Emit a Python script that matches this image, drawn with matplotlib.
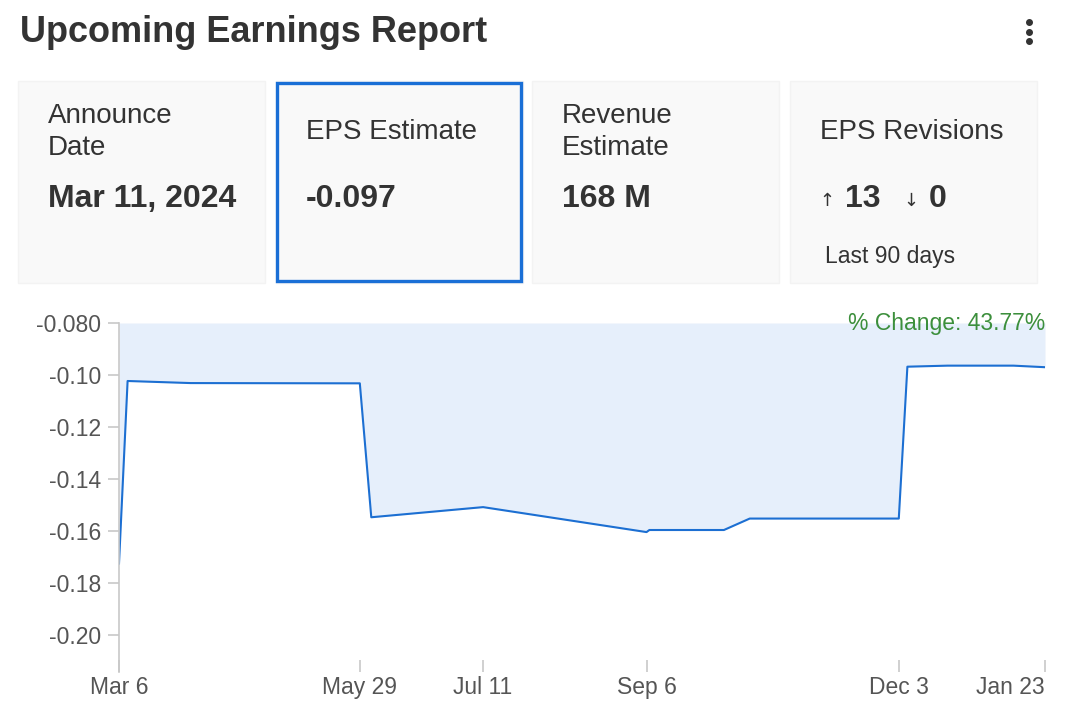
import pandas as pd
import matplotlib
matplotlib.use('Agg')
import matplotlib.pyplot as plt
from matplotlib.patches import FancyBboxPatch, Rectangle

plt.rcParams['font.family'] = ['Liberation Sans', 'DejaVu Sans']

# Данные графика
dates = ['2023-03-06', '2023-03-09', '2023-03-31', '2023-05-29', '2023-06-02',
         '2023-07-11', '2023-09-06', '2023-09-07', '2023-10-03', '2023-10-12',
         '2023-12-03', '2023-12-06', '2023-12-20', '2024-01-12', '2024-01-23']
eps = [-0.1725, -0.1023, -0.1031, -0.1032, -0.1547,
       -0.1508, -0.1604, -0.1596, -0.1596, -0.1552,
       -0.1552, -0.0968, -0.0964, -0.0964, -0.0970]

tick_dates = ['2023-03-06', '2023-05-29', '2023-07-11', '2023-09-06', '2023-12-03', '2024-01-23']
tick_labels = ['Mar 6', 'May 29', 'Jul 11', 'Sep 6', 'Dec 3', 'Jan 23']
y_ticks = [-0.08, -0.10, -0.12, -0.14, -0.16, -0.18, -0.20]
y_labels = ['-0.080', '-0.10', '-0.12', '-0.14', '-0.16', '-0.18', '-0.20']

card_titles = ['Announce\nDate', 'EPS Estimate', 'Revenue\nEstimate', 'EPS Revisions']
card_values = ['Mar 11, 2024', '-0.097', '168 M', None]
revisions_up = 13
revisions_down = 0
pct_change = 43.77

W, H = 1074, 727
fig = plt.figure(figsize=(W / 100, H / 100), dpi=100)
fig.patch.set_facecolor('white')

# Слой для заголовка и карточек (в пикселях)
bg = fig.add_axes([0, 0, 1, 1])
bg.set_xlim(0, W)
bg.set_ylim(H, 0)
bg.axis('off')

bg.text(20, 33, 'Upcoming Earnings Report', fontsize=26, fontweight='bold',
        color='#333333', va='center', ha='left')
bg.plot([1029, 1029, 1029], [22, 32, 41], 'o', color='#333333', markersize=4)

card_x = [18, 276, 532, 790]
card_w = 247
for i, x0 in enumerate(card_x):
    bg.add_patch(FancyBboxPatch((x0, 81), card_w, 202, boxstyle='square,pad=0',
                                facecolor='#f9f9f9', edgecolor='#f3f3f3', lw=1))
    if i == 1:
        bg.add_patch(Rectangle((x0 + 1, 83), card_w - 3, 198, fill=False,
                               edgecolor='#1a6fd6', lw=2.4))
    tx = x0 + 30
    bg.text(tx, 132, card_titles[i], fontsize=20, color='#333333',
            va='center', ha='left', linespacing=1.32)
    if card_values[i] is not None:
        bg.text(tx, 199, card_values[i], fontsize=23, fontweight='bold',
                color='#333333', va='center', ha='left')

# Карточка с ревизиями
bg.text(819, 201, '↑', fontsize=13, color='#333333', va='center', ha='left',
        family=['DejaVu Sans'])
bg.text(845, 199, str(revisions_up), fontsize=23, fontweight='bold',
        color='#333333', va='center', ha='left')
bg.text(903, 201, '↓', fontsize=13, color='#333333', va='center', ha='left',
        family=['DejaVu Sans'])
bg.text(929, 199, str(revisions_down), fontsize=23, fontweight='bold',
        color='#333333', va='center', ha='left')
bg.text(825, 256, 'Last 90 days', fontsize=16.5, color='#333333', va='center', ha='left')

# График EPS
left, right, top, bottom = 119, 1045, 323, 672
ax = fig.add_axes([left / W, 1 - bottom / H, (right - left) / W, (bottom - top) / H])

x = pd.to_datetime(dates)
ax.fill_between(x, eps, -0.08, color='#e6effb', lw=0)
ax.plot(x, eps, color='#1c6fd2', lw=1.5)

ax.set_xlim(pd.Timestamp(tick_dates[0]), pd.Timestamp(tick_dates[-1]))
ax.set_ylim(-0.2142, -0.08)
ax.set_xticks(pd.to_datetime(tick_dates))
ax.set_xticklabels(tick_labels)
ax.get_xticklabels()[-1].set_horizontalalignment('right')
ax.set_yticks(y_ticks)
ax.set_yticklabels(y_labels)

for s in ['top', 'right', 'bottom']:
    ax.spines[s].set_visible(False)
ax.spines['left'].set_color('#c8c8c8')
ax.spines['left'].set_linewidth(1.2)
ax.tick_params(axis='y', colors='#c8c8c8', labelcolor='#555555', labelsize=16.5,
               length=8, width=1.2, pad=5)
ax.tick_params(axis='x', colors='#c8c8c8', labelcolor='#555555', labelsize=16.5,
               length=9, width=1.2, direction='in', pad=3)
ax.set_facecolor('white')

ax.text(1.0, 1.0, f'% Change: {pct_change:.2f}%', transform=ax.transAxes,
        fontsize=16.5, color='#3c8f3c', ha='right', va='center')

plt.savefig('out.png', dpi=100)
